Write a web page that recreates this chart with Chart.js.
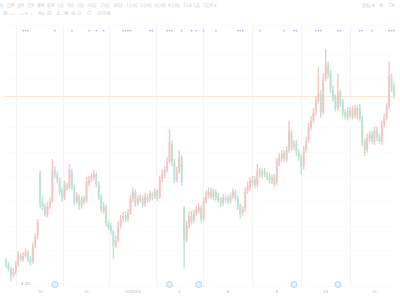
<!DOCTYPE html>
<html>
<head>
<meta charset="utf-8">
<script src="https://cdn.jsdelivr.net/npm/chart.js@4.4.1/dist/chart.umd.min.js"></script>
<style>
html, body { margin: 0; padding: 0; background: #fff; overflow: hidden; width: 400px; height: 300px; }
#bar { position: absolute; left: 0; top: 0; width: 400px; height: 21px; font-family: "Noto Sans CJK SC", sans-serif; color: #d2d2d2; }
#bar span { position: absolute; white-space: nowrap; line-height: 1; }
#wrap { position: absolute; left: 0; top: 21px; width: 400px; height: 279px; }
</style>
</head>
<body>
<div id="bar"></div>
<div id="wrap"><canvas id="k" width="400" height="279"></canvas></div>
<script>
// daily candles
const open = [
  4.80, 4.70, 4.62, 4.52, 4.58, 4.72, 4.88, 4.82, 4.90, 4.94,
  4.82, 4.78, 5.12, 5.30, 6.60, 5.98, 5.88, 5.74, 5.92, 6.02,
  6.62, 6.54, 6.42, 6.22, 6.10, 6.32, 6.30, 6.60, 6.28, 6.02,
  6.08, 5.92, 6.06, 6.02, 6.38, 6.46, 6.50, 6.54, 6.34, 6.08,
  5.82, 5.88, 5.54, 5.50, 5.38, 5.12, 5.22, 5.52, 5.66, 5.72,
  5.66, 5.78, 6.06, 6.18, 5.98, 6.02, 6.06, 5.96, 6.08, 6.06,
  6.14, 6.12, 6.18, 6.10, 6.46, 6.54, 6.66, 6.82, 7.16, 6.78,
  6.46, 6.62, 6.88, 5.86, 5.24, 5.52, 5.72, 5.62, 5.78, 5.82,
  5.86, 5.66, 6.02, 6.14, 6.22, 6.10, 6.18, 6.10, 6.02, 5.98,
  6.06, 6.06, 6.02, 6.12, 6.18, 6.06, 5.92, 5.78, 5.86, 6.22,
  6.30, 6.38, 6.46, 6.36, 6.62, 6.54, 6.62, 6.54, 6.52, 6.42,
  6.50, 6.40, 6.78, 6.88, 6.98, 6.86, 7.06, 7.40, 7.12, 7.18,
  6.98, 6.88, 6.72, 7.06, 7.26, 7.52, 7.66, 7.82, 8.06, 8.18,
  7.84, 8.52, 8.76, 8.62, 8.28, 8.12, 7.92, 8.22, 8.02, 7.82,
  7.72, 7.86, 7.74, 7.90, 7.74, 7.92, 7.68, 7.22, 7.06, 7.28,
  7.38, 7.22, 7.46, 7.32, 7.22, 7.58, 7.72, 7.94, 8.50, 8.32
];
const high = [
  4.86, 4.76, 4.66, 4.64, 4.78, 4.98, 4.94, 4.96, 5.04, 5.00,
  4.88, 5.16, 5.34, 5.64, 6.62, 6.10, 5.96, 5.98, 6.08, 6.86,
  6.72, 6.60, 6.48, 6.28, 6.42, 6.38, 6.76, 6.66, 6.34, 6.18,
  6.14, 6.10, 6.12, 6.50, 6.52, 6.58, 6.64, 6.60, 6.40, 6.14,
  5.98, 5.94, 5.60, 5.56, 5.42, 5.30, 5.58, 5.72, 5.78, 5.80,
  5.84, 6.12, 6.28, 6.24, 6.12, 6.14, 6.12, 6.18, 6.14, 6.22,
  6.20, 6.26, 6.24, 6.52, 6.64, 6.72, 6.90, 7.46, 7.24, 6.86,
  6.70, 7.04, 6.94, 5.90, 5.60, 5.78, 5.80, 5.82, 5.90, 5.96,
  5.92, 6.08, 6.22, 6.28, 6.28, 6.26, 6.24, 6.16, 6.08, 6.14,
  6.12, 6.12, 6.16, 6.26, 6.24, 6.12, 5.96, 5.90, 6.28, 6.40,
  6.48, 6.52, 6.52, 6.76, 6.68, 6.66, 6.68, 6.60, 6.58, 6.54,
  6.56, 6.88, 6.98, 7.04, 7.04, 7.12, 7.64, 7.46, 7.24, 7.24,
  7.06, 6.94, 7.12, 7.32, 7.60, 7.74, 7.90, 8.14, 8.74, 8.26,
  8.60, 9.10, 8.84, 8.68, 8.36, 8.18, 8.60, 8.28, 8.08, 7.88,
  7.92, 7.92, 7.94, 7.96, 7.96, 7.98, 7.74, 7.28, 7.38, 7.42,
  7.44, 7.52, 7.52, 7.38, 7.64, 7.78, 8.00, 8.84, 8.60, 8.40
];
const low = [
  4.66, 4.58, 4.38, 4.46, 4.52, 4.68, 4.78, 4.78, 4.86, 4.78,
  4.70, 4.74, 5.06, 5.24, 5.86, 5.82, 5.70, 5.68, 5.86, 5.98,
  6.48, 6.38, 6.14, 6.00, 6.04, 6.22, 6.26, 6.24, 5.94, 5.96,
  5.84, 5.86, 5.94, 5.98, 6.32, 6.40, 6.44, 6.30, 6.04, 5.78,
  5.76, 5.50, 5.42, 5.34, 4.84, 5.06, 5.18, 5.46, 5.60, 5.58,
  5.60, 5.74, 6.00, 5.90, 5.92, 5.98, 5.88, 5.90, 5.98, 6.00,
  6.04, 6.06, 6.02, 6.06, 6.40, 6.48, 6.60, 6.78, 6.72, 6.38,
  6.40, 6.58, 6.34, 4.66, 5.18, 5.46, 5.54, 5.56, 5.72, 5.76,
  5.58, 5.60, 5.96, 6.08, 6.06, 6.04, 6.02, 5.98, 5.90, 5.92,
  5.98, 5.94, 5.96, 6.06, 6.02, 5.84, 5.66, 5.72, 5.80, 6.16,
  6.24, 6.32, 6.28, 6.30, 6.50, 6.48, 6.50, 6.44, 6.38, 6.36,
  6.30, 6.34, 6.72, 6.82, 6.82, 6.80, 7.00, 7.04, 7.06, 6.94,
  6.84, 6.56, 6.66, 7.00, 7.20, 7.46, 7.60, 7.76, 8.00, 7.72,
  7.78, 8.46, 8.52, 8.22, 8.04, 7.84, 7.86, 7.94, 7.74, 7.68,
  7.66, 7.70, 7.68, 7.70, 7.68, 7.64, 7.14, 6.94, 7.00, 7.22,
  7.18, 7.16, 7.24, 7.18, 7.16, 7.52, 7.66, 7.88, 8.24, 8.10
];
const close = [
  4.72, 4.64, 4.50, 4.56, 4.70, 4.90, 4.84, 4.88, 4.96, 4.84,
  4.76, 5.10, 5.28, 5.56, 5.96, 5.90, 5.76, 5.90, 6.00, 6.64,
  6.56, 6.44, 6.20, 6.08, 6.34, 6.28, 6.64, 6.30, 6.00, 6.10,
  5.90, 6.04, 6.00, 6.40, 6.44, 6.52, 6.56, 6.36, 6.10, 5.84,
  5.90, 5.56, 5.48, 5.40, 5.10, 5.20, 5.50, 5.64, 5.70, 5.64,
  5.76, 6.04, 6.20, 5.96, 6.04, 6.08, 5.94, 6.10, 6.04, 6.16,
  6.10, 6.20, 6.08, 6.44, 6.56, 6.64, 6.80, 7.20, 6.80, 6.44,
  6.60, 6.90, 6.40, 5.20, 5.50, 5.70, 5.60, 5.76, 5.84, 5.88,
  5.64, 6.00, 6.16, 6.20, 6.12, 6.20, 6.08, 6.04, 5.96, 6.08,
  6.04, 6.00, 6.10, 6.20, 6.08, 5.90, 5.76, 5.84, 6.20, 6.32,
  6.40, 6.44, 6.34, 6.64, 6.56, 6.60, 6.56, 6.50, 6.44, 6.48,
  6.36, 6.80, 6.90, 6.96, 6.88, 7.04, 7.44, 7.10, 7.16, 7.00,
  6.90, 6.70, 7.04, 7.24, 7.50, 7.64, 7.80, 8.04, 8.20, 7.80,
  8.50, 8.80, 8.60, 8.30, 8.10, 7.90, 8.24, 8.00, 7.80, 7.74,
  7.84, 7.76, 7.88, 7.76, 7.90, 7.70, 7.20, 7.04, 7.30, 7.36,
  7.24, 7.44, 7.30, 7.24, 7.56, 7.70, 7.92, 8.56, 8.30, 8.16
];

// month labels on the time axis
const tickIdx = [14, 33, 52, 71, 91, 111, 131, 151];
const tickText = ['10', '12', '2025/02', '4', '6', '8', '10', '12'];

// event dots along the top, notice icons along the bottom
const eventIdx = [7, 8, 9, 20, 27, 34, 37, 40, 48, 49, 50, 51, 59, 60, 66, 67, 68, 72, 76, 78,
  81, 86, 95, 96, 97, 104, 114, 118, 119, 127, 128, 129, 136, 137, 145, 146, 150, 157, 158, 159];
const noticeIdx = [20, 67, 79, 118, 136];

// toolbar
const tabs = [['分时', -6], ['日K', 7], ['周K', 17], ['月K', 27], ['季K', 37], ['年K', 47], ['1分', 57],
  ['3分', 67], ['5分', 77], ['10分', 87], ['15分', 100], ['30分', 113], ['1小时', 126], ['2小时', 140],
  ['3小时', 154], ['4小时', 168], ['Tick', 183], ['1天', 193], ['1日K ▾', 203],
  ['指标 ▾', 362], ['⚙', 379], ['☐▾', 388]];
const tools = [['⊠', 3], ['⌄', 9], ['⎯', 13], ['⌄', 20], ['+', 24], ['⌄', 29], ['Ac', 38], ['⊟', 47],
  ['∠', 56], ['⋒', 64], ['⊖', 71], ['⊙', 77], ['⊡', 87], ['⊙⊙', 97], ['⊗', 106]];

const bar = document.getElementById('bar');
tabs.forEach(([t, x]) => {
  const s = document.createElement('span');
  s.textContent = t;
  s.style.cssText = `left:${x}px;top:3px;font-size:4.6px;` + (t === '日K' ? 'color:#f5c29a;' : '');
  bar.appendChild(s);
});
tools.forEach(([t, x]) => {
  const s = document.createElement('span');
  s.textContent = t;
  s.style.cssText = `left:${x}px;top:11px;font-size:5.5px;font-family:"DejaVu Sans",sans-serif;`;
  bar.appendChild(s);
});

const days = close.map((_, i) => i);
const red = '#f3c6c6', green = '#bde3d1';
const colors = close.map((c, i) => c >= open[i] ? red : green);

const extras = {
  id: 'extras',
  beforeDatasetsDraw(chart) {
    const { ctx, chartArea: a, scales: { y } } = chart;
    const yl = Math.round(y.getPixelForValue(close[close.length - 1])) + 0.5;
    ctx.save();
    ctx.strokeStyle = '#fae8d8';
    ctx.lineWidth = 1;
    ctx.beginPath();
    ctx.moveTo(a.left, yl);
    ctx.lineTo(a.right, yl);
    ctx.stroke();
    ctx.restore();
  },
  afterDatasetsDraw(chart) {
    const { ctx, scales: { x, y } } = chart;
    const lo = Math.min(...low);
    const li = low.indexOf(lo);
    ctx.save();
    ctx.fillStyle = '#b4b4b4';
    ctx.font = '4px "DejaVu Sans", sans-serif';
    ctx.textBaseline = 'middle';
    ctx.fillText(lo.toFixed(2), x.getPixelForValue(li) + 10, y.getPixelForValue(lo) + 3);
    ctx.restore();
  }
};

new Chart(document.getElementById('k'), {
  type: 'bar',
  data: {
    labels: days,
    datasets: [
      {
        data: days.map(i => [low[i], high[i]]),
        backgroundColor: colors,
        barThickness: 0.7,
        grouped: false,
        order: 3
      },
      {
        data: days.map(i => [open[i], close[i]]),
        backgroundColor: colors,
        barThickness: 1.3,
        grouped: false,
        order: 2
      },
      {
        type: 'line',
        data: days.map(i => eventIdx.includes(i) ? 9.48 : null),
        showLine: false,
        pointRadius: 0.9,
        pointBackgroundColor: '#a6c8ec',
        pointBorderWidth: 0,
        order: 1
      },
      {
        type: 'line',
        data: days.map(i => noticeIdx.includes(i) ? 4.31 : null),
        showLine: false,
        clip: false,
        pointRadius: 3,
        pointBackgroundColor: '#e8f1fb',
        pointBorderColor: '#aac9ea',
        pointBorderWidth: 0.8,
        order: 0
      }
    ]
  },
  options: {
    responsive: false,
    animation: false,
    devicePixelRatio: 1,
    layout: { padding: 0 },
    plugins: { legend: { display: false }, tooltip: { enabled: false } },
    scales: {
      x: {
        offset: true,
        border: { display: false },
        grid: { color: '#f4f4f4', drawTicks: false },
        ticks: {
          autoSkip: false,
          maxRotation: 0,
          padding: 4,
          color: '#c0c0c0',
          font: { size: 4, family: 'DejaVu Sans' },
          callback: (v, i) => {
            const k = tickIdx.indexOf(i);
            return k >= 0 ? tickText[k] : null;
          }
        },
        afterFit: s => { s.height = 14; }
      },
      y: {
        position: 'right',
        min: 4.28,
        max: 9.58,
        border: { display: false },
        grid: { color: '#fbfbfb', drawTicks: false },
        ticks: { display: false, stepSize: 0.5 },
        afterFit: s => { s.width = 0; }
      }
    }
  },
  plugins: [extras]
});
</script>
</body>
</html>
